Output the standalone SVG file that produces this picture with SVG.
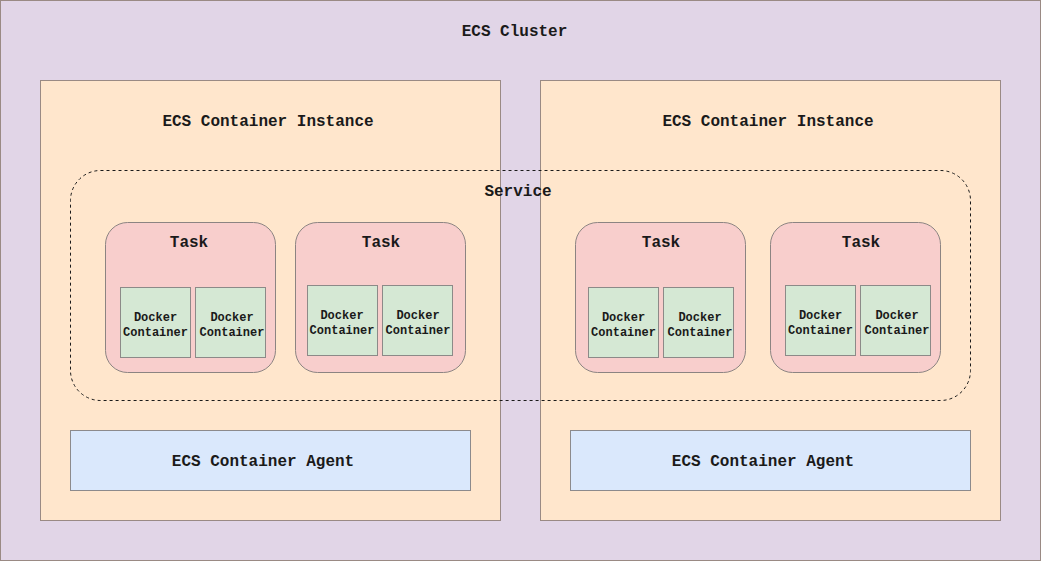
<svg xmlns="http://www.w3.org/2000/svg" width="1041" height="561" viewBox="0 0 1041 561">
<style>
text{font-family:"Liberation Mono","DejaVu Sans Mono",monospace;font-weight:bold;fill:#1a1a1a;text-anchor:middle}
.t16{font-size:16px}
.t12{font-size:12px}
.cluster{fill:#e1d5e7;stroke:#9a8a84;stroke-width:1}
.inst{fill:#ffe6cc;stroke:#9a8a84;stroke-width:1}
.svc{fill:none;stroke:#1a1a1a;stroke-width:1;stroke-dasharray:3 3}
.task{fill:#f8cecc;stroke:#8c8482;stroke-width:1}
.dock{fill:#d5e8d4;stroke:#8c8a88;stroke-width:1}
.agent{fill:#dae8fc;stroke:#8c8a8c;stroke-width:1}
</style>
<g id="cluster">
<rect class="cluster" x="0.5" y="0.5" width="1040" height="560"/>
<text class="t16" x="514.5" y="36">ECS Cluster</text>
</g>
<g id="instance1">
<rect class="inst" x="40.5" y="80.5" width="460" height="440"/>
<text class="t16" x="268" y="126">ECS Container Instance</text>
</g>
<g id="instance2">
<rect class="inst" x="540.5" y="80.5" width="460" height="440"/>
<text class="t16" x="768" y="126">ECS Container Instance</text>
</g>
<g id="service">
<rect class="svc" x="70.5" y="170.5" width="900" height="230" rx="30" ry="30"/>
<text class="t16" x="518" y="196">Service</text>
</g>
<g id="task1">
<rect class="task" x="105.5" y="222.5" width="170" height="150" rx="22" ry="22"/>
<text class="t16" x="189" y="247">Task</text>
</g>
<g id="task2">
<rect class="task" x="295.5" y="222.5" width="170" height="150" rx="22" ry="22"/>
<text class="t16" x="381" y="247">Task</text>
</g>
<g id="task3">
<rect class="task" x="575.5" y="222.5" width="170" height="150" rx="22" ry="22"/>
<text class="t16" x="661" y="247">Task</text>
</g>
<g id="task4">
<rect class="task" x="770.5" y="222.5" width="170" height="150" rx="22" ry="22"/>
<text class="t16" x="861" y="247">Task</text>
</g>
<g id="docker1">
<rect class="dock" x="120.5" y="287.5" width="70" height="70"/>
<text class="t12" x="155.5" y="321">Docker</text><text class="t12" x="155.5" y="336">Container</text>
</g>
<g id="docker2">
<rect class="dock" x="195.5" y="287.5" width="70" height="70"/>
<text class="t12" x="232" y="321">Docker</text><text class="t12" x="232" y="336">Container</text>
</g>
<g id="docker3">
<rect class="dock" x="307.5" y="285.5" width="70" height="70"/>
<text class="t12" x="342" y="319">Docker</text><text class="t12" x="342" y="334">Container</text>
</g>
<g id="docker4">
<rect class="dock" x="382.5" y="285.5" width="70" height="70"/>
<text class="t12" x="418" y="319">Docker</text><text class="t12" x="418" y="334">Container</text>
</g>
<g id="docker5">
<rect class="dock" x="588.5" y="287.5" width="70" height="70"/>
<text class="t12" x="623.5" y="321">Docker</text><text class="t12" x="623.5" y="336">Container</text>
</g>
<g id="docker6">
<rect class="dock" x="663.5" y="287.5" width="70" height="70"/>
<text class="t12" x="700" y="321">Docker</text><text class="t12" x="700" y="336">Container</text>
</g>
<g id="docker7">
<rect class="dock" x="785.5" y="285.5" width="70" height="70"/>
<text class="t12" x="820.5" y="319">Docker</text><text class="t12" x="820.5" y="334">Container</text>
</g>
<g id="docker8">
<rect class="dock" x="860.5" y="285.5" width="70" height="70"/>
<text class="t12" x="897" y="319">Docker</text><text class="t12" x="897" y="334">Container</text>
</g>
<g id="agent1">
<rect class="agent" x="70.5" y="430.5" width="400" height="60"/>
<text class="t16" x="263" y="466">ECS Container Agent</text>
</g>
<g id="agent2">
<rect class="agent" x="570.5" y="430.5" width="400" height="60"/>
<text class="t16" x="763" y="466">ECS Container Agent</text>
</g>
<g id="connectors"></g>
</svg>
